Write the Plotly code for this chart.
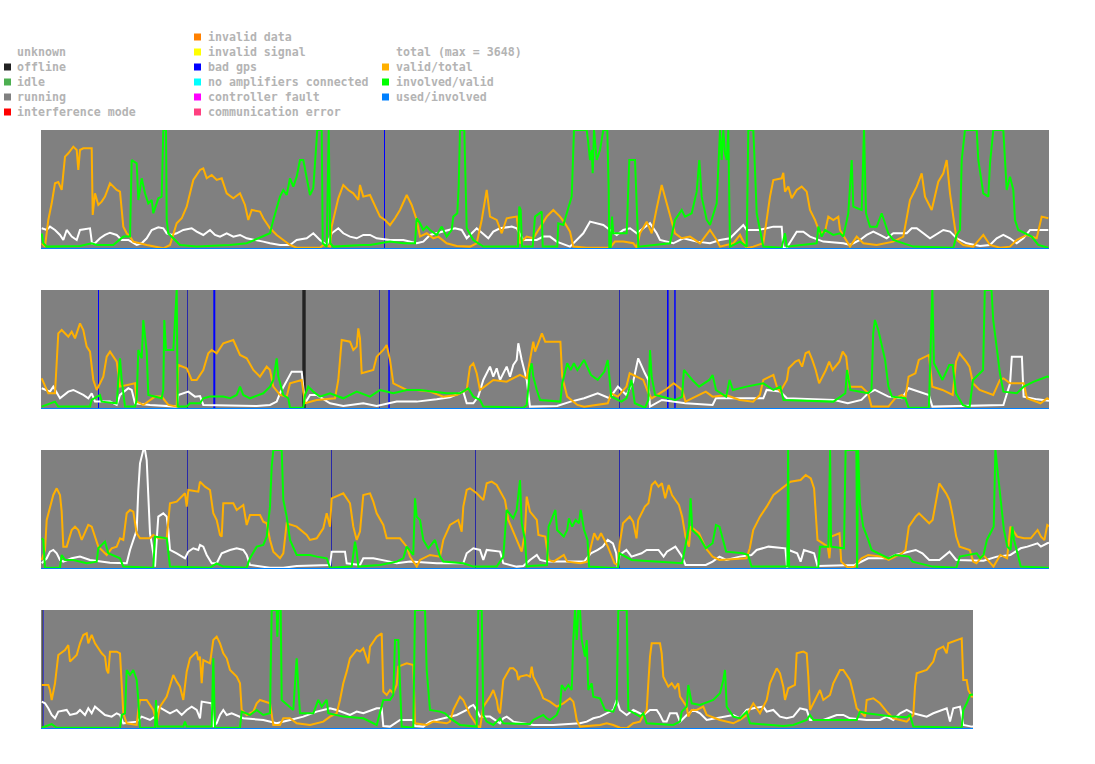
import plotly.graph_objects as go

W, H = 1095, 764
X0 = 41
STRIP_TOP = [130, 290, 450, 610]
STRIP_BOT = [249, 409, 569, 729]
STRIP_LEN = [1008, 1008, 1008, 932]

# ---------------- data: (time offset, ratio 0..1) ----------------
S1_VALID = [(0.7,0.048),(4,0.02),(7.3,0.244),(10.7,0.384),(14,0.552),(17.3,0.563),(20.7,0.496),(24,0.776),(27.3,0.804),(32.3,0.86),(35.7,0.832),(37.3,0.664),(39,0.832),(42.3,0.846),(50.7,0.846),(51.7,0.286),(54,0.468),(57.3,0.37),(60.7,0.398),(64,0.44),(69,0.552),(72.3,0.524),(75.7,0.496),(79,0.482),(82.3,0.188),(85.7,0.132),(89,0.104),(92.3,0.062),(99,0.048),(105.7,0.034),(122.3,0.006),(129,0.034),(135.7,0.216),(140.7,0.258),(145.7,0.356),(152.3,0.58),(159,0.664),(162.3,0.678),(165.7,0.594),(170.7,0.622),(175.7,0.58),(180.7,0.594),(185.7,0.468),(192.3,0.426),(199,0.468),(204,0.37),(207.3,0.244),(210.7,0.328),(219,0.314),(222.3,0.258),(229,0.174),(235.7,0.118),(242.3,0.076),(249,0.034),(255.7,0.011),(279,0.011),(282.3,0.034),(289,0.02),(290.7,0.188),(297.3,0.426),(302.3,0.538),(307.3,0.496),(312.3,0.468),(317.3,0.412),(319,0.538),(322.3,0.44),
    (329,0.454),(334,0.356),(339,0.272),(344,0.244),(349,0.2),(354,0.258),(359,0.328),(365.7,0.454),(370.7,0.37),(375.7,0.244),(379,0.104),(385.7,0.132),(392.3,0.09),(397.3,0.104),(405.7,0.048),(415.7,0.025),(429,0.02),(435.7,0.048),(440.7,0.244),(445.7,0.496),(449,0.272),(455.7,0.244),(460.7,0.132),(465.7,0.258),(475.7,0.272),(479,0.048),(485.7,0.104),(492.3,0.09),(497.3,0.16),(505.7,0.272),(512.3,0.328),(519,0.272),(524,0.216),(529,0.146),(532.3,0.02),(545.7,0.011),(569,0.011),(574,0.062),(582.3,0.062),(592.3,0.048),(595.7,0.011),(599,0.132),(605.7,0.23),(610.7,0.132),(615.7,0.342),(620.7,0.538),(625.7,0.384),(630.7,0.244),(634,0.132),(640.7,0.09),(649,0.104),(659,0.048),(669,0.16),(675.7,0.076),
    (679,0.02),(692.3,0.048),(699,0.118),(705.7,0.006),(712.3,0.02),(722.3,0.048),(725.7,0.272),(729,0.44),(732.3,0.58),(740.7,0.594),(742.3,0.64),(744,0.482),(747.3,0.524),(750.7,0.426),(755.7,0.496),(760.7,0.524),(765.7,0.482),(769,0.328),(774,0.244),(779,0.132),(784,0.146),(787.3,0.272),(792.3,0.244),(797.3,0.272),(799,0.16),(804,0.09),(809,0.02),(815.7,0.104),(822.3,0.048),(835.7,0.034),(852.3,0.062),(862.3,0.104),(869,0.412),(875.7,0.524),(880.7,0.636),(884,0.44),(890.7,0.328),(897.3,0.566),(902.3,0.636),(905.7,0.748),(909,0.468),(912.3,0.272),(915.7,0.076),(922.3,0.034),(932.3,0.02),(942.3,0.118),(949,0.034),(959,0.011),(969,0.02),(975.7,0.076),(985.7,0.118),(995.7,0.09),(1000.7,0.272),(1007.3,0.258)]

S1_INVOLVED = [(0.7,0.13),(2.3,0.048),(5.7,0.02),(39,0.025),(50.7,0.048),(55.7,0.034),(72.3,0.034),(82.3,0.104),(89,0.104),(90.7,0.748),(95.7,0.72),(97.3,0.412),(100.7,0.594),(104,0.468),(107.3,0.384),(110.7,0.412),(112.3,0.3),(117.3,0.426),(120.7,0.44),(122.3,1.0),(125,1.0),(125.7,0.244),(127.3,0.132),(132.3,0.09),(139,0.034),(155.7,0.02),(189,0.034),(205.7,0.048),(222.3,0.104),(229,0.132),(232.3,0.244),(235.7,0.356),(239,0.44),(242.3,0.496),(245.7,0.454),(249,0.594),(252.3,0.524),(255.7,0.608),(259,0.748),(262.3,0.748),(265.7,0.608),(269,0.454),(272.3,0.51),(275,0.8),(276.3,1.0),(280.7,1.0),(281.7,0.048),(285.7,0.02),(287.7,1.0),(289.3,0.048),(292.3,0.02),(322,0.034),
    (329,0.034),(349,0.062),(362.3,0.048),(374,0.048),(375.7,0.258),(379,0.216),(382.3,0.16),(385.7,0.188),(389,0.16),(395.7,0.118),(400.7,0.188),(405.7,0.104),(410.7,0.16),(412.3,0.272),(416.3,0.3),(417.7,0.524),(419,1.0),(423.3,1.0),(424.3,0.55),(425.7,0.174),(432.3,0.076),(442.3,0.02),(477,0.02),(478.3,0.356),(479.7,0.328),(481,0.02),(491.7,0.02),(494,0.272),(500.7,0.314),(501.7,0.02),(516.3,0.02),(517.3,0.216),(522.3,0.202),(525.7,0.3),(530.7,0.44),(533,1.0),(545.7,1.0),(547.3,0.888),(549,0.748),(550.7,0.832),(551.7,0.636),(553,1.0),(555.7,0.748),(559,0.832),(562.3,1.0),(566.3,1.0),(567.7,0.5),(568.3,0.011),(569.7,0.011),(571,0.272),(572.3,0.132),(585.7,0.132),(588.3,0.748),(594,0.748),(595.7,0.356),(597.3,0.02),(629,0.048),(634,0.244),(640.7,0.328),(644,0.272),(650.7,0.3),(655.7,0.482),(658.3,0.748),(660.7,0.44),(665.7,0.244),(669,0.202),(675.7,0.384),
    (679,1.0),(680.7,0.748),(682.3,1.0),(684,0.804),(685.7,0.748),(687.3,1.0),(689,0.02),(699,0.062),(705.7,0.02),(707.3,1.0),(712.3,1.0),(714,0.664),(715.7,0.3),(719,0.16),(722.3,0.02),(740.7,0.011),(744,0.132),(745.7,0.02),(775.7,0.048),(777.3,0.188),(780.7,0.104),(784,0.16),(792.3,0.118),(799,0.132),(802.3,0.104),(807.3,0.3),(810.7,0.748),(812.3,0.356),(820.7,0.328),(823,1.0),(825,0.3),(829,0.188),(835.7,0.188),(840.7,0.3),(844,0.216),(847.3,0.132),(852.3,0.076),(872.3,0.02),(912.3,0.011),(915.7,0.118),(919,0.16),(920.7,0.748),(924,1.0),(935.7,1.0),(937.3,0.748),(940.7,0.524),(942.3,0.468),(947.3,0.44),(949,0.72),(952.3,1.0),(962.3,1.0),(964,0.748),(965.7,0.496),(969,0.608),(972.3,0.496),(974,0.244),(977.3,0.16),(990.7,0.104),(997.3,0.034),(1007.3,0.011)]

S1_TOTAL = [(0.7,0.174),(5.7,0.16),(9,0.188),(14,0.16),(19,0.118),(22.3,0.076),(25.7,0.16),(30.7,0.104),(35.7,0.076),(39,0.16),(49,0.174),(51,0.048),(54,0.048),(59,0.09),(64,0.118),(69,0.137),(75.7,0.118),(80.7,0.076),(87.3,0.076),(92.3,0.048),(95.7,0.034),(100.7,0.048),(105.7,0.09),(110.7,0.16),(117.3,0.182),(122.3,0.174),(125.7,0.132),(130.7,0.118),(135.7,0.132),(142.3,0.16),(150.7,0.174),(155.7,0.146),(162.3,0.118),(169,0.16),(174,0.118),(179,0.104),(185.7,0.132),(192.3,0.104),(199,0.118),(205.7,0.09),(215.7,0.076),(222.3,0.062),(229,0.048),(239,0.034),(249,0.034),(255.7,0.076),(265.7,0.09),(272.3,0.132),(279,0.076),(285.7,0.034),(290.7,0.132),(297.3,0.174),(302.3,0.132),(309,0.104),(315.7,0.09),(322.3,0.118),
    (329,0.118),(335.7,0.09),(349,0.076),(362.3,0.076),(375.7,0.048),(382.3,0.062),(389,0.118),(402.3,0.146),(414,0.174),(420.7,0.16),(425.7,0.09),(435.7,0.174),(447.3,0.09),(452.3,0.146),(459,0.174),(470.7,0.188),(475.7,0.174),(482.3,0.076),(495.7,0.076),(502.3,0.104),(509,0.104),(515.7,0.062),(529,0.02),(535.7,0.076),(542.3,0.132),(549,0.23),(555.7,0.216),(562.3,0.202),(569,0.16),(575.7,0.118),(582.3,0.16),(589,0.174),(595.7,0.132),(602.3,0.174),(609,0.216),(615.7,0.132),(619,0.076),(632.3,0.048),(642.3,0.09),(655.7,0.062),(669,0.048),
    (679,0.076),(689,0.09),(694,0.132),(702.3,0.202),(705.7,0.16),(717.3,0.16),(725.7,0.174),(732.3,0.188),(740.7,0.188),(742.3,0.011),(745.7,0.011),(750.7,0.076),(755.7,0.146),(762.3,0.146),(769,0.104),(782.3,0.062),(802.3,0.048),(809,0.034),(819,0.076),(825.7,0.118),(832.3,0.146),(839,0.118),(845.7,0.09),(852.3,0.132),(865.7,0.132),(870.7,0.174),(875.7,0.174),(889,0.09),(902.3,0.16),(909,0.146),(915.7,0.09),(925.7,0.048),(939,0.025),(949,0.034),(955.7,0.09),(962.3,0.118),(969,0.09),(975.7,0.048),(982.3,0.09),(989,0.16),(1002.3,0.16),(1007.3,0.16)]

S2_VALID = [(0.7,0.258),(7.3,0.132),(14,0.132),(15.7,0.356),(17.3,0.636),(20.7,0.664),(24,0.636),(27.3,0.608),(30.7,0.65),(34,0.594),(39,0.72),(42.3,0.664),(45.7,0.524),(49,0.482),(52.3,0.244),(55.7,0.16),(62.3,0.272),(65.7,0.44),(69,0.482),(75.7,0.398),(79,0.188),(85.7,0.202),(94,0.216),(95.7,0.062),(102.3,0.034),(114,0.104),(120.7,0.104),(127.3,0.034),(135.7,0.02),(137.3,0.37),(145.7,0.342),(150.7,0.244),(155.7,0.244),(162.3,0.328),(167.3,0.468),(170.7,0.496),(175.7,0.468),(182.3,0.552),(192.3,0.58),(199,0.454),(205.7,0.426),(212.3,0.328),(219,0.272),(225.7,0.356),(229,0.328),(232.3,0.188),(239,0.118),(245.7,0.104),(249,0.216),(260.7,0.244),(264,0.048),(275.7,0.076),(294,0.09),(297.3,0.244),(300.7,0.58),(309,0.566),(312.3,0.496),(315.7,0.524),(317.3,0.678),(319,0.594),(320.7,0.3),(332.3,0.328),(335.7,0.44),(342.3,0.496),(345.7,0.538),(349,0.412),(352.3,0.216),(365.7,0.16),(375.7,0.16),(389,0.146),(402.3,0.104),(415.7,0.118),(425.7,0.16),(429,0.356),(432.3,0.384),(435.7,0.3),(439,0.16),(452.3,0.244),(465.7,0.23),(479,0.286),(485.7,0.258),
    (489,0.412),(492.3,0.566),(494.1,0.482),(500.9,0.636),(504.2,0.566),(519.4,0.566),(521.2,0.272),(526.2,0.104),(536.4,0.034),(543.1,0.02),(566.8,0.048),(570.1,0.132),(576.9,0.104),(585.4,0.188),(588.7,0.3),(602.3,0.244),(607.4,0.132),(610.7,0.09),(624.2,0.16),(632.7,0.216),(641.1,0.16),(644.5,0.062),(658.1,0.118),(664.8,0.146),(671.6,0.104),(685.1,0.118),(698.7,0.076),(712.1,0.062),(718.9,0.118),(722.3,0.244),(732.4,0.286),(735.8,0.188),(739.2,0.146),(745.9,0.244),(747.7,0.342),(754.4,0.398),(757.8,0.412),(761.1,0.356),(764.6,0.468),(767.9,0.482),(771.3,0.412),(774.7,0.328),(778.1,0.216),(784.9,0.328),(788.2,0.398),(791.6,0.328),(798.4,0.398),(801.7,0.482),(805.2,0.44),(808.5,0.188),(820.4,0.188),(827.1,0.132),(830.5,0.02),(847.4,0.02),(854.1,0.09),(860.9,0.118),(864.3,0.09),(867.6,0.272),(874.4,0.3),(877.8,0.412),(887.9,0.454),(891.3,0.188),(901.5,0.16),(911.7,0.118),(915,0.398),(918.4,0.468),(925.2,0.398),(928.5,0.356),(932,0.216),(938.6,0.16),(952.2,0.118),(958.9,0.244),(962.4,0.258),(969.1,0.216),(982.7,0.216),(986,0.09),(999.5,0.048),(1006.3,0.09),(1008,0.08)]

S2_INVOLVED = [(0.7,0.02),(9,0.048),(14,0.062),(17.3,0.02),(49,0.02),(50.7,0.076),(59,0.118),(60.7,0.062),(75.7,0.048),(77.3,0.244),(79,0.426),(80.7,0.244),(84,0.02),(94,0.02),(95.7,0.076),(97.3,0.496),(100.7,0.426),(102.3,0.748),(104,0.58),(105.7,0.482),(107.3,0.118),(120.7,0.09),(122.3,0.16),(123.3,0.748),(125,0.496),(132.3,0.496),(134,0.748),(135.7,1.0),(136.7,0.02),(145.7,0.02),(149,0.048),(159,0.048),(162.3,0.09),(169,0.104),(182.3,0.104),(189,0.09),(195.7,0.118),(199,0.188),(202.3,0.118),(209,0.09),(222.3,0.132),(229,0.188),(232.3,0.244),(235.7,0.426),(237.3,0.272),(242.3,0.118),(247.3,0.09),(249,0.011),(262.3,0.011),(264,0.118),(267.3,0.188),(272.3,0.146),(279,0.104),(289,0.132),(302.3,0.09),(315.7,0.146),(329,0.104),(339,0.16),(352.3,0.132),(365.7,0.16),(379,0.16),(392.3,0.146),(405.7,0.132),(419,0.132),(427.3,0.174),(432.3,0.104),(439,0.076),(442.3,0.02),(482.3,0.011),(485.7,0.034),
    (489,0.328),(490.7,0.384),(492.3,0.272),(495.8,0.16),(499.1,0.076),(519.4,0.062),(521.2,0.216),(526.2,0.384),(529.6,0.328),(532.9,0.384),(536.4,0.328),(543.1,0.412),(549.9,0.286),(556.7,0.244),(563.4,0.314),(566.8,0.412),(568.5,0.244),(570.2,0.104),(580.3,0.062),(585.4,0.09),(587.1,0.132),(590.5,0.244),(593.8,0.048),(604,0.011),(607.4,0.076),(609,0.496),(610.7,0.272),(614.1,0.118),(634.4,0.076),(641.1,0.104),(642.9,0.328),(651.3,0.244),(658.1,0.188),(668.3,0.244),(671.6,0.286),(675,0.16),(685.1,0.104),(688.6,0.244),(691.9,0.16),(705.4,0.188),(722.3,0.216),(732.4,0.16),(739.2,0.188),(742.5,0.076),(792.4,0.062),(804.3,0.132),(806,0.328),(809.4,0.16),(827.1,0.132),(830.5,0.16),(832.2,0.636),(833.9,0.748),(837.3,0.664),(840.7,0.524),(844.1,0.412),(847.4,0.188),(850.9,0.104),(864.3,0.09),(867.6,0.011),(887.9,0.011),(889.6,0.58),(891.3,1.0),(893,0.384),(901.5,0.244),(908.3,0.37),(911.7,0.37),(915,0.132),(921.8,0.034),(928.5,0.011),(932,0.244),(942.1,0.328),(943.8,1.0),(950.5,1.0),(952.2,0.748),(955.6,0.524),(958.9,0.3),(962.4,0.146),(975.9,0.132),(982.7,0.188),(992.8,0.23),(1006.3,0.272),(1008,0.27)]

S2_TOTAL = [(0.7,0.174),(9,0.146),(12.3,0.188),(19,0.09),(27.3,0.146),(32.3,0.16),(42.3,0.118),(47.3,0.09),(50.7,0.132),(54,0.062),(69,0.062),(75.7,0.034),(79,0.118),(87.3,0.174),(90.7,0.16),(94,0.048),(109,0.034),(135.7,0.02),(137.3,0.118),(147.3,0.146),(154,0.104),(159,0.109),(162.3,0.034),(215.7,0.025),(229,0.034),(235.7,0.062),(239,0.132),(245.7,0.244),(250.7,0.314),(260.7,0.314),(264,0.048),(269,0.118),(275.7,0.118),(289,0.048),(302.3,0.025),(322.3,0.048),(335.7,0.025),(355.7,0.062),(375.7,0.062),(395.7,0.081),(409,0.098),(422.3,0.146),(425.7,0.048),(432.3,0.048),(437.3,0.104),(442.3,0.244),(449,0.356),(452.3,0.272),(455.7,0.342),(459,0.244),(465.7,0.356),(469,0.272),(472.3,0.37),(475.7,0.412),(477.3,0.552),(480.7,0.412),(485.7,0.244),
    (489,0.02),(516.1,0.025),(529.6,0.062),(543.1,0.09),(556.7,0.132),(568.5,0.09),(576.9,0.188),(585.4,0.118),(592.2,0.23),(597.2,0.426),(603.9,0.3),(607.4,0.244),(609,0.02),(620.9,0.076),(644.5,0.048),(671.6,0.034),(674.9,0.09),(702,0.09),(722.3,0.09),(725.6,0.16),(739.2,0.146),(745.9,0.09),(793.3,0.076),(806.8,0.048),(820.4,0.076),(827.1,0.132),(833.9,0.16),(847.4,0.104),(860.9,0.09),(867.6,0.174),(887.9,0.118),(891.4,0.02),(962.4,0.034),(969.1,0.216),(970.8,0.44),(980.9,0.44),(982.6,0.104),(996.2,0.081),(1006.3,0.076),(1008,0.07)]

S3_VALID = [(0.7,0.076),(4,0.16),(5.7,0.412),(9,0.524),(12.3,0.622),(15.7,0.678),(19,0.622),(20.7,0.482),(22.3,0.188),(25.7,0.188),(30.7,0.328),(34,0.356),(37.3,0.328),(40.7,0.244),(47.3,0.37),(50.7,0.356),(54,0.272),(57.3,0.188),(65.7,0.118),(70.7,0.174),(75.7,0.188),(79,0.258),(82.3,0.244),(85.7,0.468),(89,0.496),(92.3,0.482),(95.7,0.3),(99,0.258),(109,0.258),(112.3,0.286),(117.3,0.258),(125.7,0.258),(129,0.552),(135.7,0.566),(144,0.636),(145.7,0.524),(147.3,0.664),(157.3,0.65),(159,0.734),(164,0.692),(169,0.664),(172.3,0.468),(175.7,0.412),(179,0.286),(180.7,0.272),(182.3,0.552),(192.3,0.552),(195.7,0.496),(202.3,0.538),(205.7,0.37),(209,0.454),(219,0.454),(222.3,0.398),(225.7,0.384),(229,0.244),(232.3,0.146),(239,0.09),(242.3,0.132),(245.7,0.384),(255.7,0.356),(265.7,0.286),(269,0.244),(275.7,0.258),(282.3,0.342),(285.7,0.468),(289,0.356),(290.7,0.594),(302.3,0.636),(309,0.552),(312.3,0.356),(315.7,0.244),(319,0.314),(322.3,0.622),(329,0.636),(332.3,0.566),(335.7,0.468),(342.3,0.37),(345.7,0.258),(359,0.258),(365.7,0.188),(369,0.104),(375.7,0.02),(379,0.076),(389,0.118),(399,0.104),(402.3,0.244),(409,0.37),(417.3,0.412),(420.7,0.314),(422.3,0.524),(425.7,0.664),(429,0.678),(435.7,0.636),(442.3,0.58),(445.7,0.72),(450.7,0.734),(455.7,0.706),(460.7,0.622),(464,0.58),(467.3,0.412),(474,0.272),(480.7,0.146),(484,0.314),(485.7,0.608),
    (489,0.482),(495.8,0.412),(497.4,0.286),(504.2,0.272),(507.6,0.076),(512.6,0.062),(522.8,0.118),(526.2,0.062),(539.7,0.048),(546.5,0.062),(549.9,0.188),(553.2,0.3),(556.7,0.244),(560,0.3),(566.8,0.188),(573.5,0.048),(576.9,0.034),(578.5,0.202),(582,0.384),(588.7,0.44),(592.1,0.398),(595.5,0.258),(597.2,0.412),(603.9,0.524),(607.4,0.552),(610.7,0.706),(614.1,0.734),(617.5,0.692),(620.9,0.72),(624.2,0.594),(627.7,0.706),(631,0.622),(637.9,0.538),(641.2,0.44),(644.5,0.272),(648,0.188),(649.6,0.356),(658.1,0.3),(664.8,0.174),(671.6,0.104),(678.5,0.076),(705.4,0.09),(708.8,0.174),(712.2,0.328),(719,0.44),(725.7,0.524),(732.5,0.622),(739.3,0.664),(749.4,0.734),(759.6,0.748),(764.7,0.79),(769.8,0.762),(773.1,0.678),(776.5,0.244),(786.7,0.188),(788.4,0.09),(790.1,0.272),(798.5,0.3),(800.2,0.062),(806.9,0.011),(813.7,0.02),(820.5,0.09),(827.2,0.118),(840.8,0.104),(847.6,0.076),(861.1,0.132),(864.5,0.16),(867.8,0.356),(874.6,0.44),(878,0.468),(888.2,0.384),(891.6,0.412),(894.9,0.58),(898.3,0.72),(905.1,0.636),(908.5,0.58),(911.9,0.44),(915.2,0.272),(918.6,0.188),(928.8,0.16),(932.2,0.062),(935.5,0.048),(942.3,0.118),(949.1,0.048),(952.5,0.02),(959.3,0.118),(966.1,0.09),(969.4,0.356),(976.2,0.272),(983,0.258),(989.8,0.258),(996.6,0.328),(1000,0.272),(1003.4,0.244),(1006.3,0.37),(1008,0.36)]

S3_INVOLVED = [(0.7,0.258),(2.3,0.244),(4,0.011),(19,0.011),(20.7,0.118),(24,0.076),(32.3,0.076),(45.7,0.048),(55.7,0.062),(57.3,0.174),(64,0.23),(67.3,0.132),(79,0.09),(82.3,0.02),(112.3,0.011),(114,0.272),(125.7,0.258),(129,0.02),(169,0.011),(175.7,0.048),(182.3,0.02),(205.7,0.011),(209,0.09),(215.7,0.188),(222.3,0.202),(225.7,0.272),(229,0.524),(230.7,0.86),(232.3,1.0),(240.7,1.0),(242.3,0.58),(245.7,0.44),(249,0.244),(255.7,0.118),(269,0.118),(275.7,0.104),(285.7,0.09),(289,0.011),(310.7,0.02),(314,0.23),(315.7,0.146),(317.3,0.02),(339,0.034),(355.7,0.062),(362.3,0.09),(365.7,0.188),(372.3,0.118),(374,0.594),(375.7,0.44),(379,0.412),(382.3,0.244),(387.3,0.174),(394,0.244),(399,0.104),(402.3,0.062),(422.3,0.048),(432.3,0.02),(455.7,0.02),(462.3,0.104),(465.7,0.496),(472.3,0.426),(475.7,0.496),(479,0.748),(480.7,0.384),(484,0.244),(485.7,0.02),
    (489,0.025),(506,0.034),(507.6,0.356),(514.4,0.496),(516.1,0.328),(522.8,0.272),(526.2,0.328),(527.9,0.426),(531.2,0.356),(534.6,0.412),(537.9,0.384),(539.7,0.496),(543.1,0.328),(546.5,0.244),(548.1,0.02),(576.9,0.006),(578.5,0.132),(590.5,0.076),(641.1,0.048),(644.5,0.188),(648,0.356),(649.6,0.594),(651.3,0.328),(658.1,0.272),(664.8,0.174),(671.6,0.216),(675,0.37),(678.5,0.356),(683.5,0.188),(685.1,0.146),(702,0.132),(707.1,0.118),(710.5,0.02),(746.4,0.02),(747.1,1.0),(748.1,0.02),(777.2,0.011),(778.9,0.188),(787.4,0.188),(789.1,1.0),(790.1,0.188),(803,0.174),(804.6,1.0),(815.4,1.0),(816.1,0.006),(817.1,1.0),(818.9,0.55),(822.2,0.356),(827.3,0.244),(830.6,0.16),(847.6,0.09),(854.4,0.118),(868,0.104),(871.5,0.062),(891.7,0.02),(915.4,0.011),(918.8,0.104),(935.7,0.132),(939.1,0.09),(942.5,0.118),(945.9,0.244),(952.7,0.356),(954.4,1.0),(956.2,0.86),(959.5,0.58),(962.9,0.328),(966.3,0.188),(969.6,0.16),(971.4,0.356),(973,0.244),(976.5,0.132),(979.8,0.02),(1006.3,0.011),(1008,0.011)]

S3_TOTAL = [(0.7,0.048),(5.7,0.09),(9,0.146),(12.3,0.16),(15.7,0.132),(19,0.076),(22.3,0.062),(30.7,0.09),(39,0.104),(49,0.076),(69,0.053),(85.7,0.048),(89,0.16),(92.3,0.244),(95.7,0.328),(97.3,0.664),(99,0.888),(102.3,1.0),(104,1.0),(105.7,0.916),(107.3,0.664),(109,0.3),(112.3,0.132),(114,0.02),(115.7,0.244),(117.3,0.44),(122.3,0.468),(125.7,0.44),(127.3,0.328),(129,0.16),(135.7,0.132),(144,0.09),(147.3,0.146),(152.3,0.174),(157.3,0.16),(159,0.202),(162.3,0.188),(165.7,0.118),(170.7,0.048),(175.7,0.048),(180.7,0.132),(189,0.16),(195.7,0.174),(202.3,0.16),(205.7,0.118),(209,0.034),(229,0.011),(242.3,0.011),(255.7,0.025),(289,0.034),(290.7,0.146),(304,0.146),(305.7,0.048),(319,0.034),(322.3,0.09),(332.3,0.09),(349,0.062),(355.7,0.048),(369,0.062),(395.7,0.048),(422.3,0.048),(425.7,0.132),(432.3,0.174),(439,0.16),(442.3,0.076),(445.7,0.16),(459,0.146),(462.3,0.048),(475.7,0.02),(482.3,0.025),
    (489,0.076),(495.8,0.118),(499.1,0.076),(506,0.062),(543.1,0.062),(549.9,0.132),(556.7,0.16),(561.8,0.188),(566.8,0.244),(571.9,0.216),(575.2,0.132),(576.9,0.006),(578.5,0.118),(585.4,0.16),(590.5,0.104),(600.6,0.132),(605.7,0.16),(617.5,0.16),(622.6,0.104),(625.9,0.146),(634.4,0.188),(637.8,0.146),(641.2,0.104),(644.5,0.034),(664.8,0.034),(671.6,0.062),(678.5,0.104),(685.2,0.076),(698.7,0.104),(710.5,0.118),(715.6,0.16),(727.5,0.188),(744.4,0.174),(746.1,0.006),(747.7,0.16),(756.2,0.132),(759.6,0.062),(763,0.16),(773.1,0.132),(776.5,0.025),(813.7,0.034),(827.2,0.09),(847.5,0.09),(854.4,0.118),(868,0.146),(874.7,0.16),(881.4,0.132),(888.2,0.076),(898.4,0.076),(908.5,0.146),(915.3,0.076),(928.8,0.076),(942.4,0.07),(955.9,0.104),(969.4,0.118),(979.6,0.174),(986.4,0.188),(996.5,0.216),(999.9,0.188),(1006.3,0.216),(1008,0.22)]

S4_VALID = [(0.7,0.37),(7.3,0.37),(9,0.328),(10.7,0.244),(14,0.384),(15.7,0.496),(17.3,0.622),(24,0.664),(27.3,0.706),(29,0.566),(35.7,0.622),(39,0.72),(42.3,0.79),(45.7,0.804),(47.3,0.72),(50.7,0.79),(54,0.72),(60.7,0.636),(64,0.608),(65.7,0.496),(67.3,0.468),(69,0.65),(75.7,0.65),(79,0.636),(80.7,0.356),(82.3,0.132),(85.7,0.048),(95.7,0.034),(97.3,0.16),(99,0.244),(105.7,0.244),(112.3,0.16),(115.7,0.048),(119,0.188),(125.7,0.272),(129,0.356),(132.3,0.454),(135.7,0.398),(139,0.356),(142.3,0.244),(145.7,0.482),(149,0.594),(155.7,0.65),(157.3,0.58),(159,0.608),(160.7,0.384),(162.3,0.58),(169,0.552),(172.3,0.748),(175.7,0.776),(179,0.72),(182.3,0.636),(185.7,0.594),(189,0.496),(195.7,0.44),(199,0.384),(200.7,0.16),(205.7,0.118),(212.3,0.146),(215.7,0.216),(219,0.244),(229,0.216),(230.7,0.118),(232.3,0.034),(239,0.034),(242.3,0.09),(249,0.09),(255.7,0.048),(269,0.034),(282.3,0.062),(289,0.104),(295.7,0.132),(299,0.244),(302.3,0.384),(305.7,0.482),(309,0.594),(315.7,0.664),(319,0.65),(322.3,0.678),(325.7,0.58),(327.3,0.552),(329,0.692),(335.7,0.776),(340.7,0.804),(342.3,0.314),(345.7,0.286),(349,0.328),(352.3,0.3),(355.7,0.37),(357.3,0.524),(365.7,0.552),(372.3,0.538),(374,0.048),(385.7,0.034),(392.3,0.062),(405.7,0.048),(409,0.062),(412.3,0.16),(419,0.272),(422.3,0.244),(429,0.118),(435.7,0.034),(439,0.006),(442.3,0.188),(449,0.272),(452.3,0.328),(455.7,0.244),(457.3,0.16),
    (459,0.132),(460.7,0.272),(462.3,0.412),(469,0.51),(472.3,0.51),(475.7,0.482),(477.3,0.412),(479,0.44),(485.7,0.454),(489,0.44),(490.7,0.524),(492.3,0.44),(495.7,0.384),(499,0.328),(502.3,0.258),(509,0.23),(515.7,0.188),(522.3,0.216),(529,0.258),(532.3,0.23),(534,0.16),(535.7,0.076),(539,0.02),(559,0.034),(565.7,0.048),(572.3,0.034),(579,0.011),(585.7,0.006),(592.3,0.048),(599,0.062),(602.3,0.118),(605.7,0.16),(607.3,0.384),(609,0.608),(610.7,0.72),(619,0.72),(620.7,0.636),(622.3,0.44),(627.3,0.356),(630.7,0.384),(634,0.342),(637.3,0.384),(639,0.272),(645.7,0.188),(647.3,0.104),(650.7,0.16),(655.7,0.16),(662.3,0.188),(665.7,0.118),(679,0.076),(692.3,0.048),(699,0.076),(705.7,0.118),(712.3,0.216),(719,0.132),(725.7,0.244),(729,0.384),(735.7,0.51),(739,0.468),(742.3,0.356),(744,0.244),(747.3,0.342),(754,0.37),(755.7,0.636),(762.3,0.65),(765.7,0.636),(767.3,0.44),(769,0.16),(775.7,0.272),(779,0.328),(782.3,0.244),(789,0.286),(792.3,0.384),(799,0.496),(802.3,0.496),(809,0.412),(812.3,0.3),(815.7,0.174),(824,0.104),(825.7,0.244),(832.3,0.258),(839,0.216),(845.7,0.146),(852.3,0.09),(865.7,0.062),(872.3,0.118),(874,0.356),(875.7,0.468),(885.7,0.496),(892.3,0.566),(895.7,0.664),(902.3,0.692),(905.7,0.636),(907.3,0.72),(920.7,0.762),(922.3,0.412),(925.7,0.412),(927.3,0.328),(930.7,0.272),(932,0.27)]

S4_INVOLVED = [(0.7,0.011),(10.7,0.042),(15.7,0.011),(79,0.011),(80.7,0.118),(84,0.132),(85.7,0.496),(89,0.454),(92.3,0.496),(95.7,0.412),(97.3,0.244),(99,0.011),(114,0.011),(115,0.244),(116.3,0.02),(142.3,0.02),(144,0.062),(145.7,0.02),(170.7,0.02),(172.3,0.594),(174,0.011),(199,0.011),(200.7,0.146),(209,0.118),(215.7,0.16),(222.3,0.118),(229,0.132),(230.7,1.0),(235.7,1.0),(236.3,0.776),(237.3,1.0),(239.7,1.0),(240.7,0.244),(249,0.188),(252.3,0.16),(254,0.384),(255.7,0.594),(257.3,0.356),(259,0.132),(272.3,0.132),(277.3,0.244),(280.7,0.188),(285.7,0.244),(287.3,0.132),(302.3,0.104),(322.3,0.09),(335.7,0.034),(342.3,0.244),(349,0.244),(352.3,0.286),(354,0.748),(357.3,0.748),(359,0.356),(360.7,0.02),(372.3,0.011),(374,1.0),(384,1.0),(385.7,0.496),(389,0.16),(399,0.146),(404,0.132),(409,0.09),(419,0.034),(435.7,0.02),(437.3,1.0),(440.7,1.0),(442.3,0.118),(445.7,0.062),(452.3,0.034),
    (459,0.09),(462.3,0.048),(489,0.042),(492.3,0.076),(502.3,0.118),(505.7,0.09),(509,0.076),(515.7,0.118),(519,0.188),(520.7,0.37),(524,0.328),(527.3,0.37),(530.7,0.328),(532.3,0.748),(534,1.0),(535.7,0.748),(537.3,1.0),(539,1.0),(540.7,0.748),(544,0.608),(545.7,0.748),(547.3,0.328),(550.7,0.384),(552.3,0.272),(559,0.258),(564,0.16),(572.3,0.146),(575.7,0.216),(577.3,1.0),(585.7,1.0),(587.3,0.16),(599,0.104),(602.3,0.132),(605.7,0.048),(632.3,0.034),(639,0.062),(640.7,0.146),(645.7,0.188),(647.3,0.37),(650.7,0.216),(659,0.202),(672.3,0.244),(679,0.3),(682.3,0.412),(684,0.496),(685.7,0.188),(692.3,0.104),(699,0.09),(705.7,0.146),(709,0.048),(742.3,0.025),(752.3,0.034),(765.7,0.076),(769,0.118),(772.3,0.076),(815.7,0.076),(819,0.146),(825.7,0.132),(852.3,0.104),(865.7,0.098),(869,0.118),(872.3,0.02),(920.7,0.011),(922.3,0.16),(925.7,0.216),(929,0.286),(932,0.29)]

S4_TOTAL = [(0.7,0.23),(4,0.216),(7.3,0.174),(10.7,0.118),(14,0.09),(17.3,0.146),(25.7,0.16),(29,0.118),(35.7,0.132),(39,0.16),(44,0.118),(47.3,0.174),(50.7,0.132),(54,0.188),(64,0.118),(70.7,0.104),(75.7,0.132),(79,0.118),(82.3,0.048),(95.7,0.062),(100.7,0.104),(109,0.076),(114,0.104),(117.3,0.188),(129,0.132),(135.7,0.16),(140.7,0.118),(145.7,0.16),(150.7,0.188),(155.7,0.16),(159,0.09),(160.7,0.23),(170.7,0.216),(172.3,0.02),(175.7,0.048),(179,0.118),(182.3,0.16),(185.7,0.118),(190.7,0.132),(202.3,0.09),(222.3,0.076),(235.7,0.048),(249,0.076),(262.3,0.104),(275.7,0.146),(289,0.174),(295.7,0.16),(309,0.118),(315.7,0.146),(322.3,0.132),(335.7,0.174),(340.7,0.174),(342.3,0.025),(349,0.02),(359,0.076),(372.3,0.076),(374,0.025),(382.3,0.02),(389,0.062),(402.3,0.09),(415.7,0.118),(425.7,0.16),(429,0.188),(432.3,0.202),(435.7,0.16),(439,0.104),(449,0.104),
    (459,0.048),(462.3,0.09),(465.7,0.104),(472.3,0.062),(492.3,0.034),(512.3,0.034),(539,0.048),(545.7,0.062),(552.3,0.09),(559,0.104),(569,0.146),(572.3,0.16),(575.7,0.244),(579,0.16),(585.7,0.118),(592.3,0.16),(602.3,0.118),(609,0.16),(615.7,0.16),(619,0.118),(622.3,0.062),(625.7,0.062),(629,0.132),(635.7,0.132),(639,0.062),(645.7,0.118),(652.3,0.16),(659,0.132),(665.7,0.076),(692.3,0.118),(699,0.09),(705.7,0.16),(712.3,0.174),(722.3,0.188),(725.7,0.146),(732.3,0.16),(739,0.104),(745.7,0.09),(752.3,0.104),(759,0.174),(765.7,0.16),(769,0.076),(782.3,0.076),(795.7,0.118),(802.3,0.118),(809,0.09),(825.7,0.076),(839,0.076),(845.7,0.104),(852.3,0.076),(859,0.132),(865.7,0.16),(872.3,0.132),(885.7,0.104),(892.3,0.132),(905.7,0.174),(909,0.062),(912.3,0.174),(919,0.188),(922.3,0.034),(930.7,0.02),(932,0.02)]

S1_USED = [(0, 0.0), (1008, 0.0)]
S2_USED = [(0, 0.0), (1008, 0.0)]
S3_USED = [(0, 0.0), (1008, 0.0)]
S4_USED = [(0, 0.0), (932, 0.0)]

# status intervals per strip: (start, end, status)
S1_STATUS = [(343, 344, "bad gps")]
S2_STATUS = [(57, 58, "bad gps"), (146, 146.5, "offline"), (146.5, 147, "bad gps"),
             (172.3, 174.3, "bad gps"), (261.3, 264.7, "offline"),
             (338, 338.5, "offline"), (338.5, 339, "bad gps"), (347.3, 348.8, "bad gps"),
             (578, 578.5, "offline"), (578.5, 579, "bad gps"),
             (626, 627.6, "bad gps"), (633.2, 634.7, "bad gps")]
S3_STATUS = [(146, 146.5, "offline"), (146.5, 147, "bad gps"),
             (290, 290.5, "offline"), (290.5, 291, "bad gps"),
             (434, 434.5, "offline"), (434.5, 435, "bad gps"),
             (578, 578.5, "offline"), (578.5, 579, "bad gps")]
S4_STATUS = [(1.5, 2, "offline"), (2, 2.5, "bad gps")]

STATUS_NAMES = ["unknown", "offline", "idle", "running", "interference mode",
                "invalid data", "invalid signal", "bad gps", "no amplifiers connected",
                "controller fault", "communication error"]
STATUS_COLORS = ["#ffffff", "#222222", "#4caf50", "#808080", "#ff0000",
                 "#ff8000", "#ffff00", "#0000ff", "#00ffff", "#ff00ff", "#ff4080"]
SERIES_NAMES = ["total (max = 3648)", "valid/total", "involved/valid", "used/involved"]
SERIES_COLORS = ["#ffffff", "#ffb000", "#00ff00", "#0080ff"]

STRIPS = [
    (S1_TOTAL, S1_VALID, S1_INVOLVED, S1_USED, S1_STATUS),
    (S2_TOTAL, S2_VALID, S2_INVOLVED, S2_USED, S2_STATUS),
    (S3_TOTAL, S3_VALID, S3_INVOLVED, S3_USED, S3_STATUS),
    (S4_TOTAL, S4_VALID, S4_INVOLVED, S4_USED, S4_STATUS),
]

# ---------------- figure ----------------
fig = go.Figure()
status_color = dict(zip(STATUS_NAMES, STATUS_COLORS))
shapes = []
layout_axes = {}
for i, strip in enumerate(STRIPS):
    n = "" if i == 0 else str(i + 1)
    xa, ya = "x" + n, "y" + n
    for series, color in zip(strip[:4], SERIES_COLORS):
        fig.add_trace(go.Scatter(
            x=[p[0] for p in series], y=[p[1] for p in series],
            mode="lines", line=dict(color=color, width=2),
            xaxis=xa, yaxis=ya, hoverinfo="skip", showlegend=False))
    for (t0, t1, st) in strip[4]:
        shapes.append(dict(type="rect", xref=xa, yref=ya + " domain",
                           x0=t0, x1=t1, y0=0, y1=1, layer="below",
                           fillcolor=status_color[st], line=dict(width=0)))
    layout_axes["xaxis" + n] = dict(
        domain=[X0 / W, (X0 + STRIP_LEN[i]) / W], range=[0, STRIP_LEN[i]],
        visible=False, fixedrange=True, anchor=ya)
    layout_axes["yaxis" + n] = dict(
        domain=[1 - STRIP_BOT[i] / H, 1 - STRIP_TOP[i] / H], range=[0, 1],
        visible=False, fixedrange=True, anchor=xa)

# ---------------- custom legend ----------------
LEG_FONT = dict(family="DejaVu Sans Mono", size=11.6, color="#b4b4b4", weight="bold")
annotations = []


def legend_item(sq_x, txt_x, row_y, label, color):
    if color is not None:
        shapes.append(dict(type="rect", xref="paper", yref="paper",
                           x0=sq_x / W, x1=(sq_x + 7) / W,
                           y0=1 - (row_y + 3.5) / H, y1=1 - (row_y - 3.5) / H,
                           fillcolor=color, line=dict(width=0)))
    annotations.append(dict(xref="paper", yref="paper", x=txt_x / W, y=1 - row_y / H,
                            xanchor="left", yanchor="middle", text=label,
                            showarrow=False, font=LEG_FONT, borderpad=0))


col1 = STATUS_NAMES[:5]
col2 = STATUS_NAMES[5:]
for k, name in enumerate(col1):
    legend_item(4, 16, 52 + 15 * k, name, status_color[name])
for k, name in enumerate(col2):
    legend_item(194, 207, 37 + 15 * k, name, status_color[name])
for k, (name, c) in enumerate(zip(SERIES_NAMES, SERIES_COLORS)):
    legend_item(382, 395, 52 + 15 * k, name, c)

fig.update_layout(
    width=W, height=H, autosize=False,
    margin=dict(l=0, r=0, t=0, b=0),
    paper_bgcolor="#ffffff", plot_bgcolor="#808080",
    shapes=shapes, annotations=annotations, showlegend=False,
    **layout_axes)

fig.write_html("out.html", config={"displayModeBar": False},
               post_script="document.body.style.margin='0';document.body.style.overflow='hidden';")
